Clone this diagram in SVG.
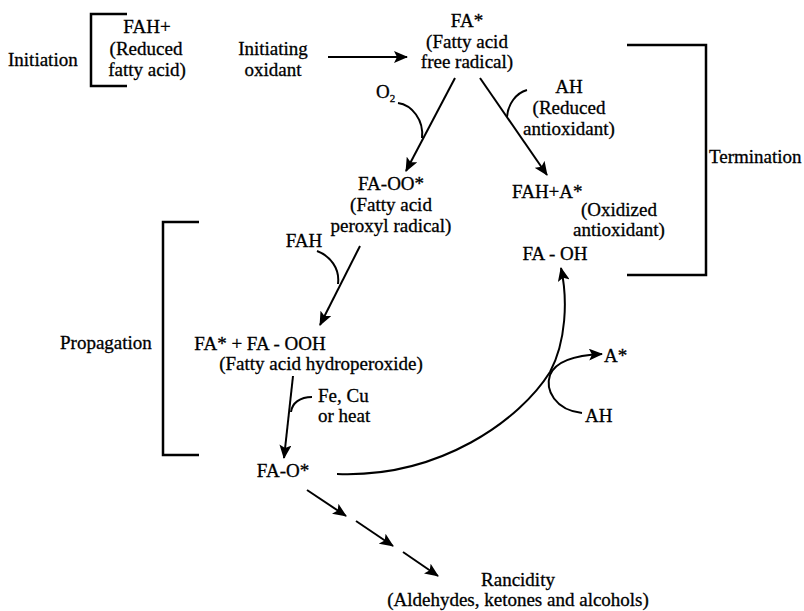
<svg xmlns="http://www.w3.org/2000/svg" width="804" height="611" viewBox="0 0 804 611">
<style>
text{font-family:"Liberation Serif","Times New Roman",serif;font-size:19px;fill:#000;stroke:#000;stroke-width:0.3}
.c{text-anchor:middle}
.ln{fill:none;stroke:#000;stroke-width:2}
.br{fill:none;stroke:#000;stroke-width:2.5}
</style>
<defs>
<marker id="ah" markerUnits="userSpaceOnUse" markerWidth="14" markerHeight="12" viewBox="0 0 14 12" refX="13" refY="6" orient="auto">
<path d="M0,0 L14,6 L0,12 L3,6 Z" fill="#000"/>
</marker>
</defs>
<rect width="804" height="611" fill="#fff"/>
<g id="initiation">
<text x="8" y="66">Initiation</text>
<path class="br" d="M127,14 H91 V86 H127"/>
<text class="c" x="147" y="33">FAH+</text>
<text class="c" x="146" y="55">(Reduced</text>
<text class="c" x="147" y="76">fatty acid)</text>
</g>
<g id="oxidant">
<text class="c" x="273" y="55">Initiating</text>
<text class="c" x="273" y="76">oxidant</text>
</g>
<g id="fa-radical">
<text class="c" x="467" y="27">FA*</text>
<text class="c" x="467" y="48">(Fatty acid</text>
<text class="c" x="467" y="68">free radical)</text>
</g>
<g id="o2"><text x="376" y="98">O<tspan font-size="11" dy="4">2</tspan></text></g>
<g id="ah-reduced">
<text class="c" x="569" y="93">AH</text>
<text class="c" x="569" y="114">(Reduced</text>
<text class="c" x="569" y="135">antioxidant)</text>
</g>
<g id="termination">
<path class="br" d="M627,45 H706 V275 H627"/>
<text x="709" y="163">Termination</text>
</g>
<g id="fa-oo">
<text class="c" x="391" y="190">FA-OO*</text>
<text class="c" x="391" y="211">(Fatty acid</text>
<text class="c" x="391" y="232">peroxyl radical)</text>
</g>
<g id="fah">
<text class="c" x="304" y="247">FAH</text>
</g>
<g id="fah-a">
<text x="512" y="198">FAH+A*</text>
<text class="c" x="619" y="216">(Oxidized</text>
<text class="c" x="619" y="236">antioxidant)</text>
<text class="c" x="555" y="260">FA - OH</text>
</g>
<g id="propagation">
<path class="br" d="M199,222 H163 V455 H199"/>
<text x="60" y="349">Propagation</text>
</g>
<g id="hydroperoxide">
<text class="c" x="260" y="350">FA* + FA - OOH</text>
<text class="c" x="321" y="370">(Fatty acid hydroperoxide)</text>
</g>
<g id="catalyst">
<text x="318" y="402">Fe, Cu</text>
<text x="318" y="422">or heat</text>
</g>
<g id="fa-o"><text class="c" x="283" y="477">FA-O*</text></g>
<g id="a-star"><text x="604" y="362">A*</text></g>
<g id="ah"><text x="585" y="422">AH</text></g>
<g id="rancidity">
<text class="c" x="518" y="586">Rancidity</text>
<text class="c" x="518" y="606">(Aldehydes, ketones and alcohols)</text>
</g>
<g id="connectors">
<path class="ln" d="M328,57 H407" marker-end="url(#ah)"/>
<path class="ln" d="M455,78 L406,171" marker-end="url(#ah)"/>
<path class="ln" d="M398,103 C412,105 424,120 422,138"/>
<path class="ln" d="M480,78 L547,175" marker-end="url(#ah)"/>
<path class="ln" d="M527,90 C516,93 508,104 507,117"/>
<path class="ln" d="M360,246 L320,325" marker-end="url(#ah)"/>
<path class="ln" d="M317,251 C330,256 340,268 338,284"/>
<path class="ln" d="M293,376 L284,458" marker-end="url(#ah)"/>
<path class="ln" d="M312,397 C300,397 292,403 291,412"/>
<path class="ln" d="M337,474 C440,478 520,420 550,372 C566,342 568,300 561,268" marker-end="url(#ah)"/>
<path class="ln" d="M582,413 C555,410 545,390 550,375 C556,360 578,355 602,354" marker-end="url(#ah)"/>
<path class="ln" d="M307,490 L346,516" marker-end="url(#ah)"/>
<path class="ln" d="M356,521 L393,546" marker-end="url(#ah)"/>
<path class="ln" d="M403,552 L438,576" marker-end="url(#ah)"/>
</g>
</svg>
